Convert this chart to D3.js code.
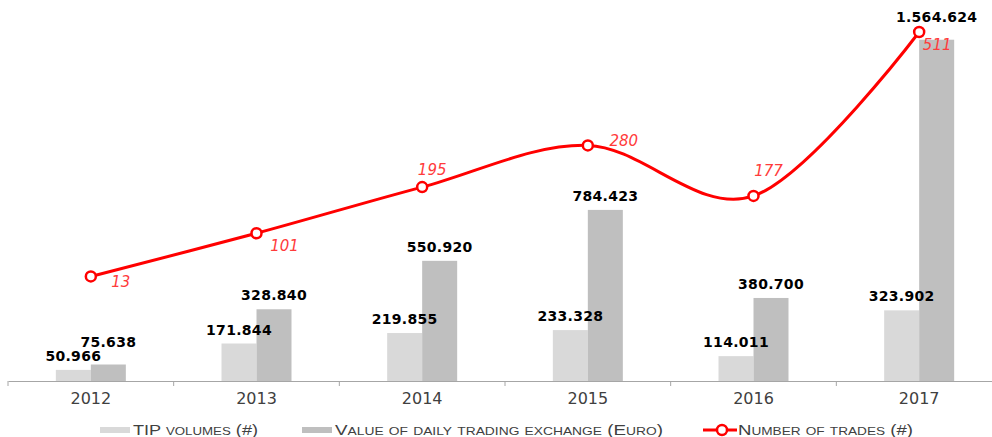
<!DOCTYPE html>
<html>
<head>
<meta charset="utf-8">
<script src="https://cdn.jsdelivr.net/npm/d3@7"></script>
<style>
  html, body { margin: 0; padding: 0; background: #fff; }
  svg { display: block; }
</style>
</head>
<body>
<svg id="chart" width="992" height="437"></svg>
<script>
// Yearly figures
const years = ["2012", "2013", "2014", "2015", "2016", "2017"];
const tipVolumes = [50966, 171844, 219855, 233328, 114011, 323902];
const tradingValue = [75638, 328840, 550920, 784423, 380700, 1564624];
const trades = [13, 101, 195, 280, 177, 511];

const seriesNames = ["TIP volumes (#)", "Value of daily trading exchange (Euro)", "Number of trades (#)"];

// Where each trade-count label sits relative to its marker (dx, dy)
const tradeLabelNudge = [[30, 6], [28, 13], [10, -17], [36, -4], [15, -25], [18, 13]];

const fmt = v => d3.format(",")(v).replace(/,/g, ".");

const svg = d3.select("#chart");
const baseY = 381, topY = 32;

const x = d3.scaleBand().domain(years).range([8, 1002]);
const y = d3.scaleLinear().domain([0, 1600000]).range([baseY, topY]);
const y2 = d3.scaleLinear().domain([-200, d3.max(trades)]).range([baseY, topY]);
const barW = 35;
const cx = d => x(d) + x.bandwidth() / 2;

// Bars
const gBars = svg.append("g");
gBars.selectAll("rect.tip").data(years).join("rect")
  .attr("class", "tip")
  .attr("x", d => cx(d) - barW)
  .attr("width", barW)
  .attr("y", (d, i) => y(tipVolumes[i]))
  .attr("height", (d, i) => baseY - y(tipVolumes[i]))
  .attr("fill", "#d9d9d9");
gBars.selectAll("rect.val").data(years).join("rect")
  .attr("class", "val")
  .attr("x", d => cx(d))
  .attr("width", barW)
  .attr("y", (d, i) => y(tradingValue[i]))
  .attr("height", (d, i) => baseY - y(tradingValue[i]))
  .attr("fill", "#bfbfbf");

// Category axis
const axis = svg.append("g").attr("transform", `translate(0,${baseY})`)
  .call(d3.axisBottom(x).tickSize(0).tickPadding(0).tickFormat(""));
axis.select(".domain").attr("stroke", "#a6a6a6").attr("stroke-width", 1.2);
axis.selectAll(".tick").remove();
const bounds = x.domain().map(d => x(d)).concat([x.range()[1]]);
axis.selectAll("line.sep").data(bounds).join("line")
  .attr("class", "sep")
  .attr("x1", d => d).attr("x2", d => d)
  .attr("y1", 0).attr("y2", 5)
  .attr("stroke", "#a6a6a6").attr("stroke-width", 1);
svg.append("g").selectAll("text").data(years).join("text")
  .attr("x", d => cx(d))
  .attr("y", 404)
  .attr("text-anchor", "middle")
  .attr("font-family", "DejaVu Sans, sans-serif")
  .attr("font-size", 16)
  .attr("fill", "#404040")
  .text(d => d);

// Trades line
const pts = years.map((d, i) => [cx(d), y2(trades[i])]);
svg.append("path")
  .attr("d", d3.line().curve(d3.curveCardinal.tension(0))(pts))
  .attr("fill", "none")
  .attr("stroke", "#ff0000")
  .attr("stroke-width", 3);
svg.append("g").selectAll("circle").data(pts).join("circle")
  .attr("cx", d => d[0]).attr("cy", d => d[1]).attr("r", 5)
  .attr("fill", "#fff").attr("stroke", "#ff0000").attr("stroke-width", 2.5);
svg.append("g").selectAll("text").data(pts).join("text")
  .attr("x", (d, i) => d[0] + tradeLabelNudge[i][0])
  .attr("y", (d, i) => d[1] + tradeLabelNudge[i][1] + 5)
  .attr("text-anchor", "middle")
  .attr("font-family", "DejaVu Sans, sans-serif")
  .attr("font-style", "italic")
  .attr("font-size", 15)
  .attr("fill", "#ff3b3b")
  .text((d, i) => trades[i]);

// Bar value labels
const labelFont = { family: "DejaVu Sans, sans-serif", size: 14 };
const gap = 9, lineH = 14;
const labels = [];
years.forEach((d, i) => {
  const tipBase = y(tipVolumes[i]) - gap;
  labels.push({ x: cx(d) - barW / 2, y: tipBase, t: fmt(tipVolumes[i]) });
  let valBase = y(tradingValue[i]) - gap;
  // keep clear of the neighbouring TIP label
  if (valBase > tipBase - lineH) valBase = Math.min(valBase, tipBase - lineH);
  // keep clear of the trade marker
  const [mx, my] = pts[i];
  const lx = cx(d) + barW / 2;
  if (Math.abs(lx - mx) < 40 && valBase > my - 6 && valBase - lineH < my + 6) valBase = my - 10;
  labels.push({ x: lx, y: valBase, t: fmt(tradingValue[i]) });
});
svg.append("g").selectAll("text").data(labels).join("text")
  .attr("x", d => d.x).attr("y", d => d.y)
  .attr("text-anchor", "middle")
  .attr("font-family", labelFont.family)
  .attr("font-weight", "bold")
  .attr("font-size", labelFont.size)
  .attr("letter-spacing", 0.3)
  .attr("fill", "#000")
  .text(d => d.t);

// Legend
const legend = svg.append("g").attr("font-family", "Liberation Sans, Arial, sans-serif")
  .attr("font-size", 15).attr("fill", "#404040");
const legendItems = [
  { kind: "rect", color: "#d9d9d9", sx: 100, tx: 133, w: 125 },
  { kind: "rect", color: "#bfbfbf", sx: 302, tx: 335, w: 328 },
  { kind: "line", color: "#ff0000", sx: 703, tx: 738, w: 175 }
];
legendItems.forEach((it, i) => {
  if (it.kind === "rect") {
    legend.append("rect").attr("x", it.sx).attr("y", 427).attr("width", 30).attr("height", 6).attr("fill", it.color);
  } else {
    legend.append("line").attr("x1", it.sx).attr("x2", it.sx + 34).attr("y1", 430).attr("y2", 430)
      .attr("stroke", it.color).attr("stroke-width", 3);
    legend.append("circle").attr("cx", it.sx + 19).attr("cy", 430).attr("r", 5)
      .attr("fill", "#fff").attr("stroke", it.color).attr("stroke-width", 2.5);
  }
  legend.append("text").attr("x", it.tx).attr("y", 435)
    .style("font-variant", "small-caps")
    .attr("textLength", it.w).attr("lengthAdjust", "spacingAndGlyphs")
    .text(seriesNames[i]);
});
</script>
</body>
</html>
